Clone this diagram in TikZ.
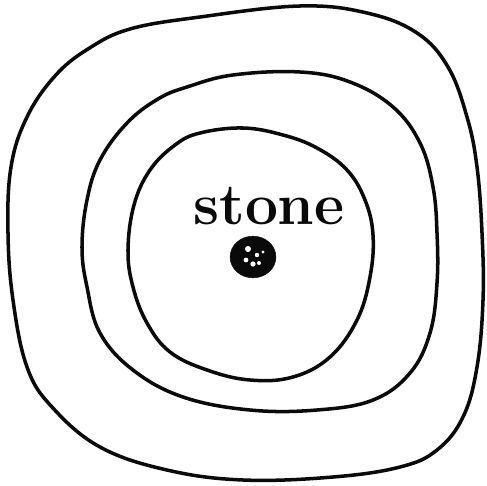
\documentclass[tikz,border=0pt]{standalone}
\usepackage{tikz}
\usetikzlibrary{positioning, calc}
\definecolor{inkblack}{RGB}{10, 10, 10}
\tikzset{
  ring/.style={draw=inkblack, line width=3pt, line join=round, line cap=round},
  pebble/.style={circle, fill=inkblack, draw=inkblack, inner sep=0pt,
                 minimum width=#1},
  scrawl/.style={font=\fontsize{50}{50}\selectfont\bfseries, text=inkblack,
                 inner sep=0pt},
}

\begin{document}
\begin{tikzpicture}[x=0.03cm, y=-0.03cm]
  \useasboundingbox (0,0) rectangle (487,485);

  % outer ring
  \draw[ring] plot[smooth cycle, tension=0.65] coordinates {
    (130,29) (200,17) (300,6) (367,13) (417,33) (448,67) (467,117)
    (477,167) (482,233) (483,300) (477,367) (463,417) (437,450)
    (400,467) (333,477) (243,480) (167,470) (100,447) (52,407)
    (27,367) (13,300) (8,233) (11,167) (27,117) (55,76) (88,49)};

  % middle ring
  \draw[ring] plot[smooth cycle, tension=0.65] coordinates {
    (187,87) (233,75) (300,72) (350,82) (393,107) (420,143) (433,187)
    (437,233) (437,283) (430,333) (410,373) (373,400) (317,410)
    (250,410) (183,397) (133,370) (100,333) (87,287) (82,247)
    (87,200) (100,160) (127,123) (158,99)};

  % inner ring
  \draw[ring] plot[smooth cycle, tension=0.65] coordinates {
    (200,133) (243,128) (283,135) (317,148) (347,170) (365,200)
    (373,235) (370,277) (357,320) (330,357) (293,377) (250,380)
    (207,370) (170,352) (147,323) (133,287) (128,250) (134,205)
    (150,170) (175,145)};

  % ---- stone and its label ----
  \node[pebble=1.25cm, xscale=1.1] (stone) at (253,257) {};
  \foreach \dx/\dy/\r in {-5/-8/3, 4/-2/2.2, -7/3/2.4, 6/6/2, 0/7/2.6, 10/-5/1.6}
    \fill[white] ($(stone.center)+(\dx,\dy)$) circle (\r);
  \node[scrawl] (label) at (269,206) {stone};
\end{tikzpicture}
\end{document}
